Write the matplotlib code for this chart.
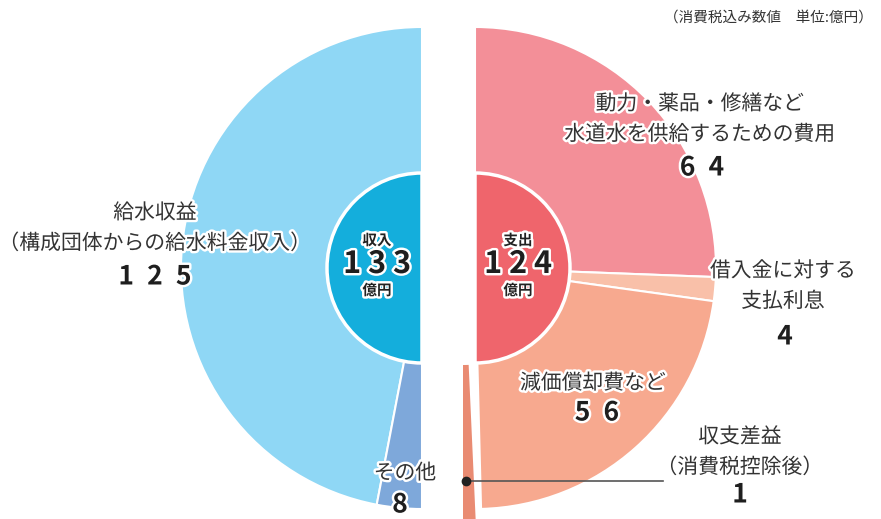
import matplotlib.pyplot as plt
import matplotlib.patheffects as pe
from matplotlib.patches import Wedge

plt.rcParams['font.family'] = ['Noto Sans CJK JP', 'DejaVu Sans']

# 収入 (億円)
income_labels = ['給水収益\n（構成団体からの給水料金収入）', 'その他']
income_values = [125, 8]
income_total = 133

# 支出 (億円)
expense_labels = ['動力・薬品・修繕など\n水道水を供給するための費用', '借入金に対する\n支払利息', '減価償却費など']
expense_values = [64, 4, 56]
expense_total = 124
surplus_value = 1

income_colors = ['#8fd7f5', '#7ea8da']
expense_colors = ['#f38f98', '#f9c0a9', '#f7a98f']
surplus_color = '#e98b72'
income_inner = '#14aedc'
expense_inner = '#ef656c'

W, H = 881, 519
fig = plt.figure(figsize=(W / 100, H / 100), dpi=100)
ax = fig.add_axes([0, 0, 1, 1])

R, r_in = 241, 95
cy = H - 268
left_c = (422, cy)
right_c = (475, cy)

halo = [pe.withStroke(linewidth=3.5, foreground='white')]
edge = dict(edgecolor='white', linewidth=1.5)

# left half: income, counter-clockwise from top
w, _ = ax.pie(income_values + [income_total], colors=income_colors + ['none'],
              startangle=90, counterclock=True, center=left_c, radius=R,
              wedgeprops=edge)
w[-1].set_visible(False)

# right half: expenses + surplus, clockwise from top
right_total = expense_total + surplus_value
w, _ = ax.pie(expense_values + [surplus_value, right_total],
              colors=expense_colors + ['none', 'none'],
              startangle=90, counterclock=False, center=right_c, radius=R,
              wedgeprops=edge)
w[-1].set_visible(False)
w[-2].set_visible(False)

# surplus slice, pulled out as a thin sliver
span = surplus_value / right_total * 180 * 1.8
ax.add_patch(Wedge((463, H - 240), 300, -90, -90 + span, width=175,
                   facecolor=surplus_color, edgecolor='none'))

# inner circles
for c, col, ccw in [(left_c, income_inner, True), (right_c, expense_inner, False)]:
    w, _ = ax.pie([1, 1], colors=[col, 'none'], startangle=90, counterclock=ccw,
                  center=c, radius=r_in, wedgeprops=dict(edgecolor='white', linewidth=2.5))
    w[-1].set_visible(False)


def label(x, y, s, size=15, weight='normal', color='#333333', ha='center'):
    ax.text(x, H - y, s, fontsize=size, fontweight=weight, color=color,
            ha=ha, va='center', path_effects=halo, linespacing=1.5)


def num(x, y, v, size=19, sep='\u2002'):
    label(x, y, sep.join(str(v)), size=size, weight='bold', color='#1e1e1e')


# centre labels
label(377, 240, '収入', size=10.5, weight='bold', color='#222222')
num(377, 264, income_total, size=22, sep=' ')
label(377, 290, '億円', size=10.5, weight='bold', color='#222222')
label(518, 240, '支出', size=10.5, weight='bold', color='#222222')
num(518, 264, expense_total, size=22, sep=' ')
label(518, 290, '億円', size=10.5, weight='bold', color='#222222')

# slice labels
label(155, 228, income_labels[0])
num(155, 277, income_values[0])
label(405, 473, income_labels[1])
num(400, 505, income_values[1])

label(700, 119, expense_labels[0])
num(702, 168, expense_values[0])
label(783, 286, expense_labels[1])
num(785, 337, expense_values[1])
label(593, 383, expense_labels[2])
num(597, 413, expense_values[2])

label(740, 452, '収支差益\n（消費税控除後）')
num(740, 495, surplus_value)
ax.plot([466, 663], [H - 481, H - 481], color='#555555', lw=1.2)
ax.plot([466], [H - 481], 'o', color='#222222', ms=6)

ax.text(873, H - 18, '（消費税込み数値　単位:億円）', fontsize=10.5, color='#333333',
        ha='right', va='center')

ax.set_xlim(0, W)
ax.set_ylim(0, H)
ax.set_aspect('equal')
ax.axis('off')
fig.savefig('out.png', dpi=100)
